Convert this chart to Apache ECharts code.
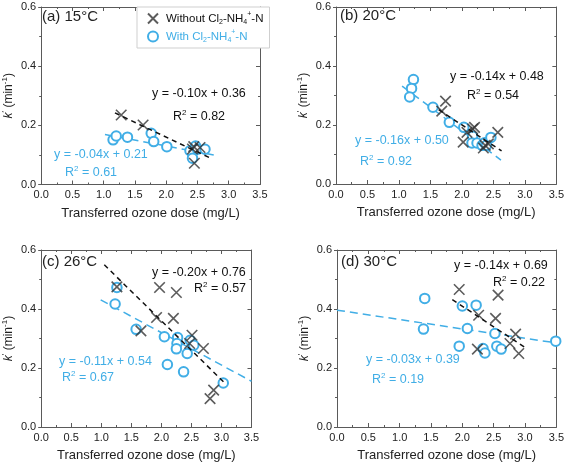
<!DOCTYPE html>
<html><head><meta charset="utf-8">
<script src="https://cdn.jsdelivr.net/npm/echarts@6/dist/echarts.min.js"></script>
<style>html,body{margin:0;padding:0;background:#fff}#c{width:567px;height:466px}</style>
</head><body><div id="c"></div>
<script>
// ---------------- data ----------------
const xTickMin = 0, xTickMax = 3.5, xTickStep = 0.5;
const yTickMin = 0, yTickMax = 0.6, yTickStep = 0.2;

const panelLabels = ['(a) 15°C', '(b) 20°C', '(c) 26°C', '(d) 30°C'];

const aWithoutX = [1.28, 1.63, 2.42, 2.44, 2.54, 2.45];
const aWithoutY = [0.235, 0.201, 0.120, 0.128, 0.125, 0.072];
const aWithX = [1.15, 1.20, 1.38, 1.76, 1.80, 2.01, 2.38, 2.42, 2.47, 2.50, 2.62];
const aWithY = [0.151, 0.164, 0.160, 0.173, 0.145, 0.128, 0.114, 0.089, 0.130, 0.119, 0.119];

const bWithoutX = [1.74, 1.68, 2.02, 2.08, 2.17, 2.20, 2.34, 2.37, 2.42, 2.57];
const bWithoutY = [0.281, 0.247, 0.142, 0.175, 0.187, 0.192, 0.122, 0.131, 0.136, 0.175];
const bWithX = [1.23, 1.20, 1.17, 1.54, 1.80, 2.03, 2.17, 2.16, 2.24, 2.32, 2.36, 2.39, 2.46];
const bWithY = [0.354, 0.324, 0.295, 0.260, 0.209, 0.192, 0.162, 0.139, 0.139, 0.131, 0.140, 0.131, 0.158];

const cWithoutX = [1.26, 1.97, 2.25, 1.92, 2.20, 1.66, 2.51, 2.47, 2.70, 2.87, 2.81];
const cWithoutY = [0.475, 0.473, 0.456, 0.371, 0.368, 0.326, 0.311, 0.283, 0.266, 0.125, 0.096];
const cWithX = [1.26, 1.23, 1.58, 2.05, 2.27, 2.26, 2.25, 2.48, 2.54, 2.43, 2.10, 2.37, 3.03];
const cWithY = [0.473, 0.417, 0.331, 0.306, 0.303, 0.283, 0.265, 0.294, 0.277, 0.249, 0.212, 0.187, 0.149];

const dWithoutX = [1.95, 2.57, 2.26, 2.53, 2.85, 2.76, 2.90, 2.24];
const dWithoutY = [0.466, 0.447, 0.379, 0.368, 0.315, 0.283, 0.249, 0.264];
const dWithX = [1.40, 1.38, 2.00, 2.22, 2.08, 1.95, 2.33, 2.36, 2.52, 2.55, 2.62, 3.49];
const dWithY = [0.436, 0.332, 0.410, 0.413, 0.334, 0.274, 0.266, 0.251, 0.317, 0.274, 0.264, 0.291];

// fit line end points [x0, y0, x1, y1]
const fitWithout = [[1.18, 0.242, 2.71, 0.089], [1.63, 0.252, 2.63, 0.112], [1.05, 0.550, 3.06, 0.148], [1.84, 0.432, 2.99, 0.271]];
const fitWith    = [[1.02, 0.169, 2.76, 0.100], [1.05, 0.332, 2.62, 0.081], [0.99, 0.431, 3.50, 0.155], [0.00, 0.396, 3.50, 0.285]];

const eqWithout = ['y = -0.10x + 0.36', 'y = -0.14x + 0.48', 'y = -0.20x + 0.76', 'y = -0.14x + 0.69'];
const r2Without = ['0.82', '0.54', '0.57', '0.22'];
const eqWith = ['y = -0.04x + 0.21', 'y = -0.16x + 0.50', 'y = -0.11x + 0.54', 'y = -0.03x + 0.39'];
const r2With = ['0.61', '0.92', '0.67', '0.19'];

const xTitle = 'Transferred ozone dose (mg/L)';
const legendWithout = 'Without Cl2-NH4+-N';
const legendWith = 'With Cl2-NH4+-N';

// ---------------- layout / style ----------------
const FONT = '"Liberation Sans", Arial, sans-serif';
const INK = '#222';
const XCOL = '#333333';
const BLUE = '#41aee6';
const AXC = '#5a5a5a';

const grids = [
  {left: 39, top: 7, width: 221, height: 177.5},
  {left: 336, top: 7, width: 222, height: 177},
  {left: 39.5, top: 250, width: 212, height: 177},
  {left: 337, top: 250, width: 221, height: 177}
];

const textPos = [
  {lab: [42, 17], e1: [152, 94], r1: [173, 117], e2: [54, 155], r2: [65, 173]},
  {lab: [340, 16], e1: [450, 77], r1: [467, 96], e2: [355, 141], r2: [360, 162]},
  {lab: [42, 262], e1: [152, 273], r1: [194, 289], e2: [59, 362], r2: [62, 378]},
  {lab: [341, 262], e1: [454, 266], r1: [493, 283], e2: [366, 360], r2: [372, 380]}
];

const CROSS = 'path://M0,0L10,10M10,0L0,10';

const withoutX = [aWithoutX, bWithoutX, cWithoutX, dWithoutX];
const withoutY = [aWithoutY, bWithoutY, cWithoutY, dWithoutY];
const withX = [aWithX, bWithX, cWithX, dWithX];
const withY = [aWithY, bWithY, cWithY, dWithY];

const zip = (xs, ys) => xs.map((x, i) => [x, ys[i]]);

const xAxes = [], yAxes = [], series = [], graphics = [];
grids.forEach((g, i) => {
  const common = {gridIndex: i, type: 'value', splitLine: {show: false},
    axisLine: {show: true, onZero: false, lineStyle: {color: AXC, width: 1}},
    axisTick: {show: true, inside: true, length: 4, lineStyle: {color: AXC}},
    minorTick: {show: true, splitNumber: 2, length: 2, lineStyle: {color: AXC}}};
  xAxes.push(Object.assign({}, common, {
    position: 'bottom', min: xTickMin, max: xTickMax, interval: xTickStep,
    axisLabel: {formatter: v => v.toFixed(1), fontSize: 11, color: INK, fontFamily: FONT, margin: 5},
    name: xTitle, nameLocation: 'middle', nameGap: 22,
    nameTextStyle: {fontSize: 13, color: INK, fontFamily: FONT}
  }));
  xAxes.push(Object.assign({}, common, {
    position: 'top', min: xTickMin, max: xTickMax, interval: xTickStep, axisLabel: {show: false}
  }));
  yAxes.push(Object.assign({}, common, {
    position: 'left', min: yTickMin, max: yTickMax, interval: yTickStep,
    axisTick: {show: true, inside: false, length: 3, lineStyle: {color: AXC}},
    axisLabel: {formatter: v => v.toFixed(1), fontSize: 11, color: INK, fontFamily: FONT, margin: 5},
    name: '{i|k}{s|\u2032}{n| (min}{s|-1}{n|)}', nameLocation: 'middle', nameGap: 23, nameRotate: 90,
    nameTextStyle: {fontSize: 12, color: INK, fontFamily: FONT, lineHeight: 16,
      rich: {i: {fontStyle: 'italic', fontSize: 12, color: INK, fontFamily: FONT},
             n: {fontSize: 12, color: INK, fontFamily: FONT},
             s: {fontSize: 8, color: INK, fontFamily: FONT, verticalAlign: 'top'}}}
  }));
  yAxes.push(Object.assign({}, common, {
    position: 'right', min: yTickMin, max: yTickMax, interval: yTickStep, axisLabel: {show: false}
  }));

  const nm = i === 0 ? [legendWithout, legendWith] : ['p' + i + 'without', 'p' + i + 'with'];
  series.push({
    name: nm[1], type: 'scatter', xAxisIndex: 2 * i, yAxisIndex: 2 * i,
    symbol: 'emptyCircle', symbolSize: 9.5, data: zip(withX[i], withY[i]),
    itemStyle: {color: BLUE, borderColor: BLUE, borderWidth: 1.5, opacity: 1}, z: 3
  });
  series.push({
    name: nm[0], type: 'scatter', xAxisIndex: 2 * i, yAxisIndex: 2 * i,
    symbol: CROSS, symbolSize: 10.5, data: zip(withoutX[i], withoutY[i]),
    itemStyle: {color: 'rgba(0,0,0,0)', borderColor: XCOL, borderWidth: 1.6}, z: 4
  });
  const fb = fitWithout[i], fw = fitWith[i];
  series.push({
    name: 'fitA' + i, type: 'line', xAxisIndex: 2 * i, yAxisIndex: 2 * i, showSymbol: false, silent: true,
    data: [[fb[0], fb[1]], [fb[2], fb[3]]], lineStyle: {color: '#111', width: 1.5, type: [5, 4]}, z: 5
  });
  series.push({
    name: 'fitB' + i, type: 'line', xAxisIndex: 2 * i, yAxisIndex: 2 * i, showSymbol: false, silent: true,
    data: [[fw[0], fw[1]], [fw[2], fw[3]]], lineStyle: {color: BLUE, width: 1.5, type: [8, 5]}, z: 2
  });

  const tp = textPos[i];
  const mk = (pos, text, color, size, rich) => ({
    type: 'text', x: pos[0], y: pos[1], z: 10,
    style: {text: text, fill: color, fontSize: size, fontFamily: FONT, verticalAlign: 'middle', align: 'left',
            rich: rich}
  });
  const richFor = c => ({t: {fill: c, fontSize: 12.5, fontFamily: FONT, lineHeight: 16},
                         s: {fill: c, fontSize: 8, fontFamily: FONT, verticalAlign: 'top'}});
  graphics.push(mk(tp.lab, panelLabels[i], INK, 15));
  graphics.push(mk(tp.e1, eqWithout[i], '#111', 12.5));
  graphics.push(mk(tp.r1, '{t|R}{s|2}{t| = ' + r2Without[i] + '}', '#111', 12.5, richFor('#111')));
  graphics.push(mk(tp.e2, eqWith[i], BLUE, 12.5));
  graphics.push(mk(tp.r2, '{t|R}{s|2}{t| = ' + r2With[i] + '}', BLUE, 12.5, richFor(BLUE)));
});

const option = {
  animation: false,
  backgroundColor: '#fff',
  grid: grids,
  xAxis: xAxes,
  yAxis: yAxes,
  series: series,
  graphic: graphics,
  legend: {
    left: 137, top: 7, orient: 'vertical', padding: [4, 6, 4, 10],
    borderColor: '#cfcfcf', borderWidth: 1, backgroundColor: '#fff',
    itemGap: 3, itemWidth: 16, itemHeight: 10,
    data: [legendWithout, legendWith],
    formatter: n => n === legendWithout
      ? '{k|Without Cl}{ks|2}{k|-NH}{ks|4}{kp|+}{k|-N}'
      : '{b|With Cl}{bs|2}{b|-NH}{bs|4}{bp|+}{b|-N}',
    textStyle: {fontSize: 11.5, fontFamily: FONT, lineHeight: 15,
      rich: {
        k: {color: '#111', fontSize: 11.5, fontFamily: FONT, lineHeight: 15},
        ks: {color: '#111', fontSize: 7, fontFamily: FONT, verticalAlign: 'bottom'},
        kp: {color: '#111', fontSize: 7, fontFamily: FONT, verticalAlign: 'top'},
        b: {color: BLUE, fontSize: 11.5, fontFamily: FONT, lineHeight: 15},
        bs: {color: BLUE, fontSize: 7, fontFamily: FONT, verticalAlign: 'bottom'},
        bp: {color: BLUE, fontSize: 7, fontFamily: FONT, verticalAlign: 'top'}
      }}
  }
};
const chart = echarts.init(document.getElementById('c'), null, {renderer: 'canvas'});
chart.setOption(option);
</script>
</body></html>
